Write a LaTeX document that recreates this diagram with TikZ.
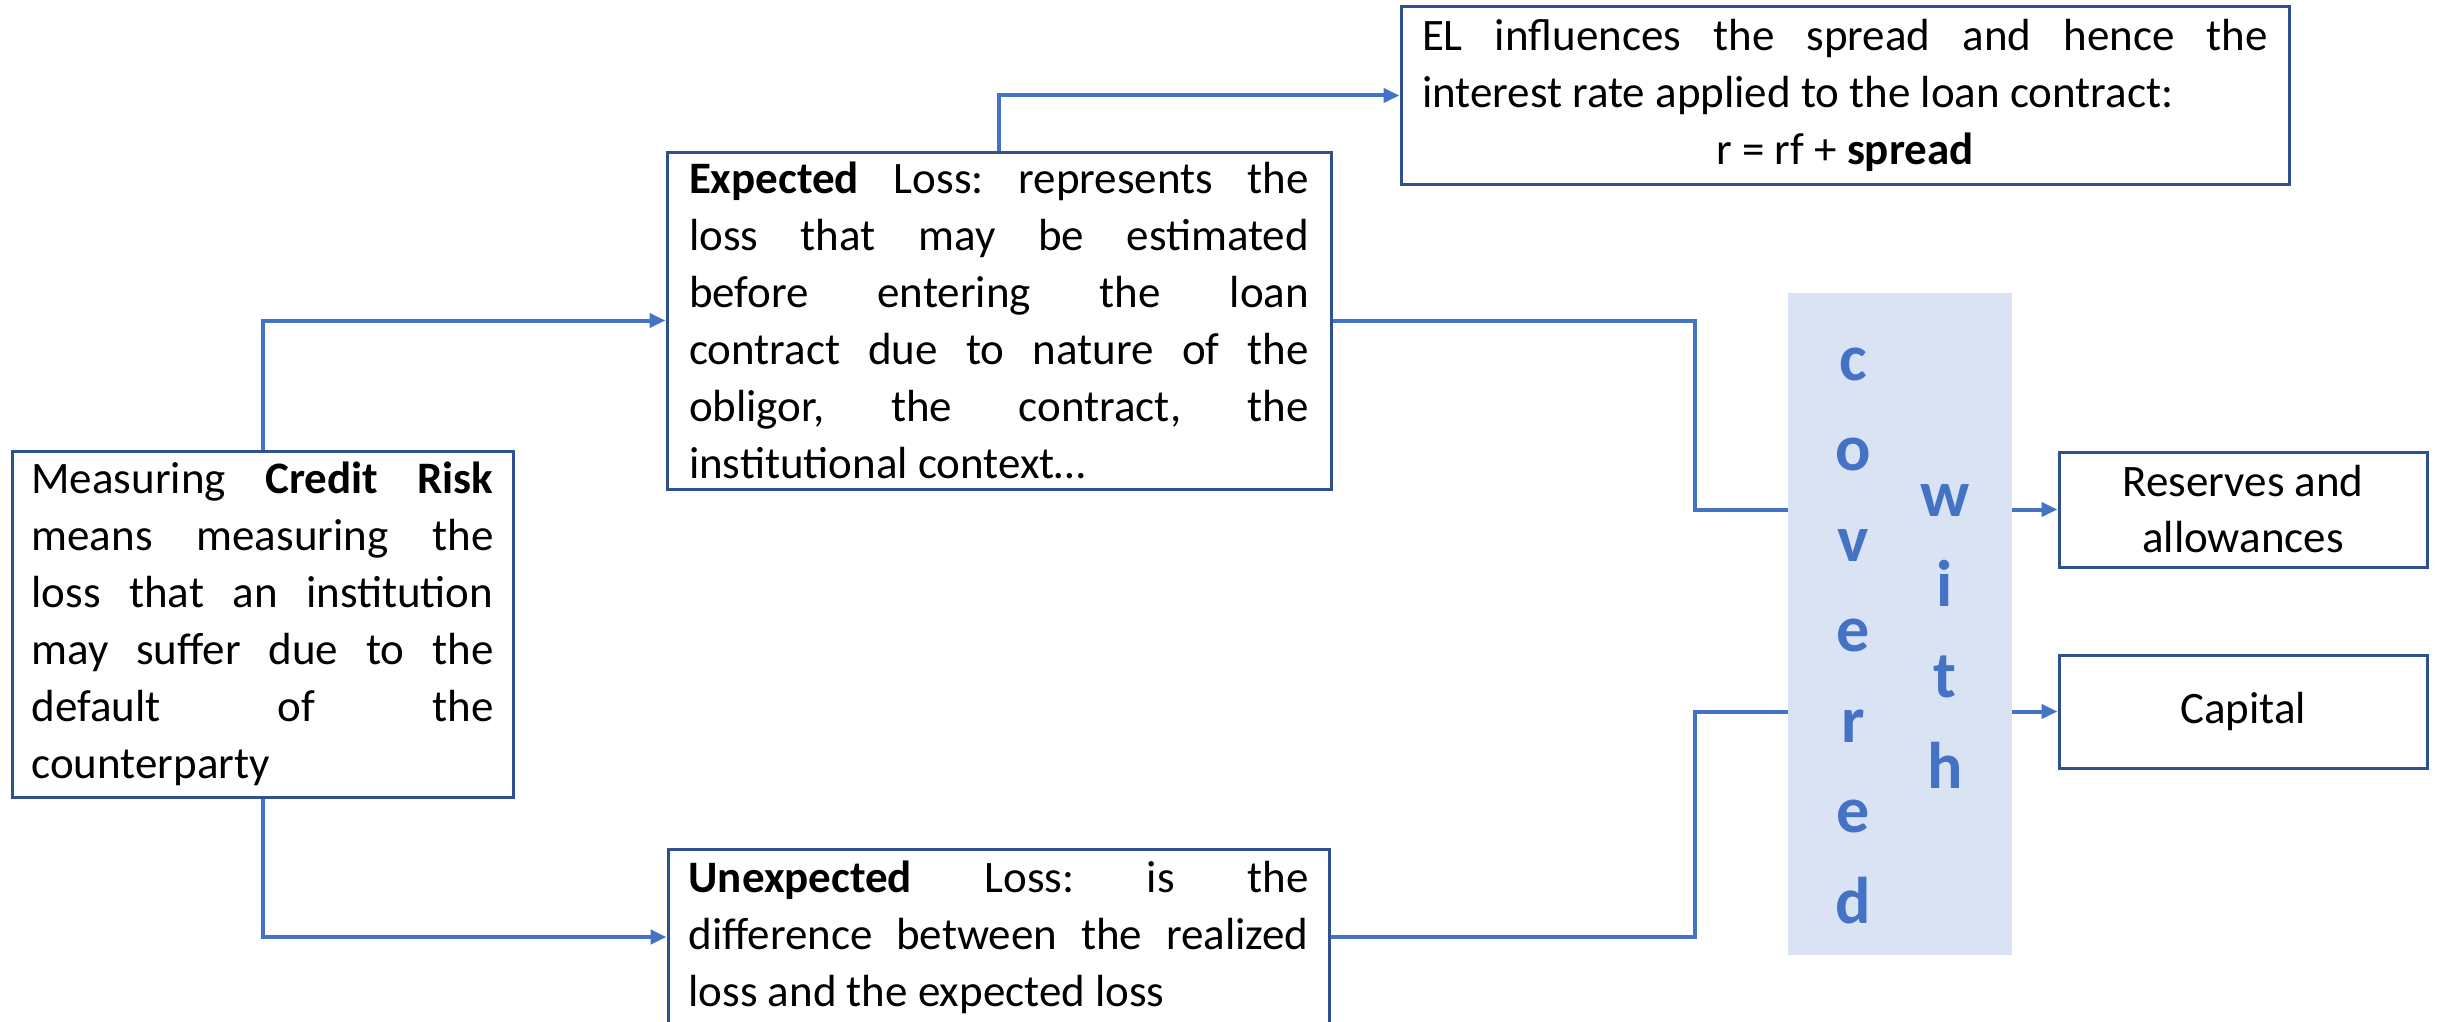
\documentclass[tikz,border=0pt]{standalone}
\usepackage{fontspec}
\setmainfont{Carlito}
\usetikzlibrary{arrows.meta}
\definecolor{boxline}{HTML}{2F528F}
\definecolor{conncol}{HTML}{4472C4}
\definecolor{covfill}{HTML}{DAE3F3}
\frenchspacing
\newcommand{\boxfont}{\fontsize{45}{57}\selectfont\frenchspacing\tolerance=10000\relax\hyphenpenalty=10000\relax}
\begin{document}
\begin{tikzpicture}[x=1pt,y=-1pt,
  box/.style={draw=boxline, line width=3pt, fill=white, inner sep=0pt,
    font=\boxfont, align=justify},
  smallbox/.style={draw=boxline, line width=3pt, fill=white, inner sep=0pt,
    font=\fontsize{45}{56}\selectfont, align=center},
  conn/.style={draw=conncol, line width=4pt},
  arr/.style={conn, -{Triangle[length=16pt,width=14pt]}},
  letter/.style={font=\fontsize{66}{66}\selectfont\bfseries, text=conncol, anchor=base, inner sep=0pt}]
\useasboundingbox (0,0) rectangle (2440,1022);
\clip (0,0) rectangle (2440,1022);

\node[box, minimum width=501pt, minimum height=346pt, text width=462pt] (credit) at (262.5,624)
  {Measuring \textbf{Credit Risk}\linebreak means measuring the\linebreak loss that an institution\linebreak may suffer due to the\linebreak default of the\linebreak counterparty};

\node[box, minimum width=664pt, minimum height=337pt, text width=620pt] (exp) at (999,320.5)
  {\textbf{Expected} Loss: represents the\linebreak loss that may be estimated\linebreak before entering the loan\linebreak contract due to nature of the\linebreak obligor, the contract, the\linebreak institutional context…};

\node[box, minimum width=888pt, minimum height=177pt, text width=846pt] (el) at (1845,95.5)
  {EL influences the spread and hence the\linebreak interest rate applied to the loan contract:\par\centering r = rf + \textbf{spread}\par};

\node[box, minimum width=661pt, minimum height=176pt, text width=620pt] (unexp) at (998.5,937)
  {\textbf{Unexpected} Loss: is the\linebreak difference between the realized\linebreak loss and the expected loss};

\node[fill=covfill, minimum width=224pt, minimum height=662pt, inner sep=0pt] (cov) at (1900,624) {};

\foreach \ch [count=\i] in {c,o,v,e,r,e,d}
  \node[letter] (cv\i) at (1853,{380+90.5*(\i-1)}) {\ch};
\foreach \ch [count=\i] in {w,i,t,h}
  \node[letter] (wt\i) at (1945,{516+90.7*(\i-1)}) {\ch};

\node[smallbox, minimum width=368pt, minimum height=115pt] (res) at (2243,509.5) {Reserves and\\allowances};
\node[smallbox, minimum width=368pt, minimum height=113pt] (cap) at (2243,711.5) {Capital};

\coordinate (j1) at (1695,0);
\draw[arr] (credit.north) |- (exp.west);
\draw[arr] (credit.south) |- (unexp.west);
\draw[arr] (exp.north) |- (el.west);
\draw[conn] (exp.east) -- (exp.east -| j1) -- (res.west -| j1) -- (res.west -| cov.west);
\draw[conn] (unexp.east) -- (unexp.east -| j1) -- (cap.west -| j1) -- (cap.west -| cov.west);
\draw[arr] (res.west -| cov.east) -- (res.west);
\draw[arr] (cap.west -| cov.east) -- (cap.west);
\end{tikzpicture}
\end{document}
